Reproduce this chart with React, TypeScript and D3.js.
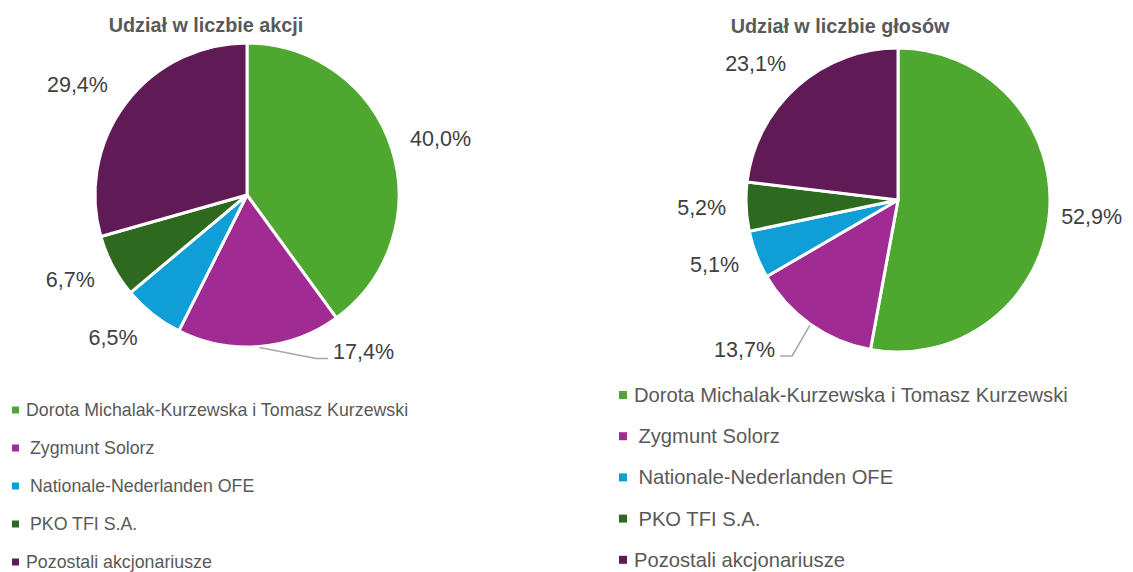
import React from "react";
import * as d3 from "d3";

const categories = [
  "Dorota Michalak-Kurzewska i Tomasz Kurzewski",
  "Zygmunt Solorz",
  "Nationale-Nederlanden OFE",
  "PKO TFI S.A.",
  "Pozostali akcjonariusze",
];
const sharesValues = [40.0, 17.4, 6.5, 6.7, 29.4];
const votesValues = [52.9, 13.7, 5.1, 5.2, 23.1];
const titles = ["Udział w liczbie akcji", "Udział w liczbie głosów"];
const colors = ["#4EA72E", "#A02B93", "#0F9ED5", "#2D6A1F", "#601B56"];
const legendIndent = [0, 1, 1, 1, 0];

const fmt = (v: number) => d3.format(".1f")(v).replace(".", ",") + "%";
const textW = (s: string, fs: number) =>
  s.split("").reduce((a, c) => a + (c === "," ? 0.278 : c === "%" ? 0.889 : 0.556), 0) * fs;

type PieProps = {
  values: number[];
  title: string;
  cx: number;
  cy: number;
  r: number;
  titleX: number;
  titleY: number;
  leaderIndex: number;
  leaderOffset: [number, number];
  leaderSide: "left" | "right";
  nudge: number[];
  legendX: number;
  legendY: number;
  legendStep: number;
  legendFont: number;
  markerSize: number;
};

function Pie(p: PieProps) {
  const pie = d3.pie<number>().sort(null).value((d) => d);
  const arcs = pie(p.values);
  const arc = d3.arc<d3.PieArcDatum<number>>().innerRadius(0).outerRadius(p.r);
  const fs = 21.5;
  const gap = 20;
  return (
    <g>
      <text
        x={p.titleX}
        y={p.titleY}
        textAnchor="middle"
        fontFamily="Liberation Sans, Arial, sans-serif"
        fontWeight="bold"
        fontSize={19.8}
        fill="#595959"
      >
        {p.title}
      </text>
      <g transform={`translate(${p.cx},${p.cy})`}>
        {arcs.map((a, i) => (
          <path key={i} d={arc(a) || ""} fill={colors[i]} stroke="#fff" strokeWidth={3} strokeLinejoin="round" />
        ))}
      </g>
      {arcs.map((a, i) => {
        const mid = (a.startAngle + a.endAngle) / 2;
        const s = Math.sin(mid);
        const c = -Math.cos(mid);
        const label = fmt(a.data);
        const w = textW(label, fs);
        const h = 20;
        let lx = p.cx + s * (p.r + gap) + (s * w) / 2 + p.nudge[i];
        let ly = p.cy + c * (p.r + gap) + (c * h) / 2;
        let leader = null;
        if (i === p.leaderIndex) {
          lx += p.leaderOffset[0];
          ly += p.leaderOffset[1];
          const px = p.cx + s * (p.r + 1);
          const py = p.cy + c * (p.r + 1);
          const yy = ly + 6;
          const ex = p.leaderSide === "left" ? lx - w / 2 - 5 : lx + w / 2 + 5;
          const bx = p.leaderSide === "left" ? ex - 12 : ex + 12;
          leader = (
            <polyline
              points={`${px},${py} ${bx},${yy} ${ex},${yy}`}
              fill="none"
              stroke="#A6A6A6"
              strokeWidth={1.5}
            />
          );
        }
        return (
          <g key={"l" + i}>
            {leader}
            <text
              x={lx}
              y={ly}
              textAnchor="middle"
              dominantBaseline="central"
              fontFamily="Liberation Sans, Arial, sans-serif"
              fontSize={fs}
              fill="#404040"
            >
              {label}
            </text>
          </g>
        );
      })}
      {categories.map((name, i) => {
        const y = p.legendY + i * p.legendStep;
        return (
          <g key={"lg" + i}>
            <rect
              x={p.legendX}
              y={y - p.markerSize / 2}
              width={p.markerSize}
              height={p.markerSize}
              fill={colors[i]}
            />
            <text
              x={p.legendX + p.markerSize + 7 + legendIndent[i] * p.legendFont * 0.22}
              y={y}
              dominantBaseline="central"
              fontFamily="Liberation Sans, Arial, sans-serif"
              fontSize={p.legendFont}
              fill="#595959"
            >
              {name}
            </text>
          </g>
        );
      })}
    </g>
  );
}

export default function App() {
  return (
    <svg
      width={1133}
      height={572}
      style={{ position: "absolute", left: 0, top: 0, background: "#fff" }}
    >
      <rect x={0} y={0} width={1133} height={572} fill="#fff" />
      <Pie
        values={sharesValues}
        title={titles[0]}
        cx={247}
        cy={195}
        r={152}
        titleX={206}
        titleY={32}
        leaderIndex={1}
        leaderOffset={[100, -24]}
        leaderSide="left"
        nudge={[1, 0, -12, -3, -8]}
        legendX={12}
        legendY={410}
        legendStep={38}
        legendFont={17.8}
        markerSize={7}
      />
      <Pie
        values={votesValues}
        title={titles[1]}
        cx={898}
        cy={200}
        r={152}
        titleX={840}
        titleY={33}
        leaderIndex={1}
        leaderOffset={[-37, 1]}
        leaderSide="right"
        nudge={[-8, 0, 0, 0, -8]}
        legendX={619}
        legendY={395}
        legendStep={41.2}
        legendFont={20.2}
        markerSize={8}
      />
    </svg>
  );
}
